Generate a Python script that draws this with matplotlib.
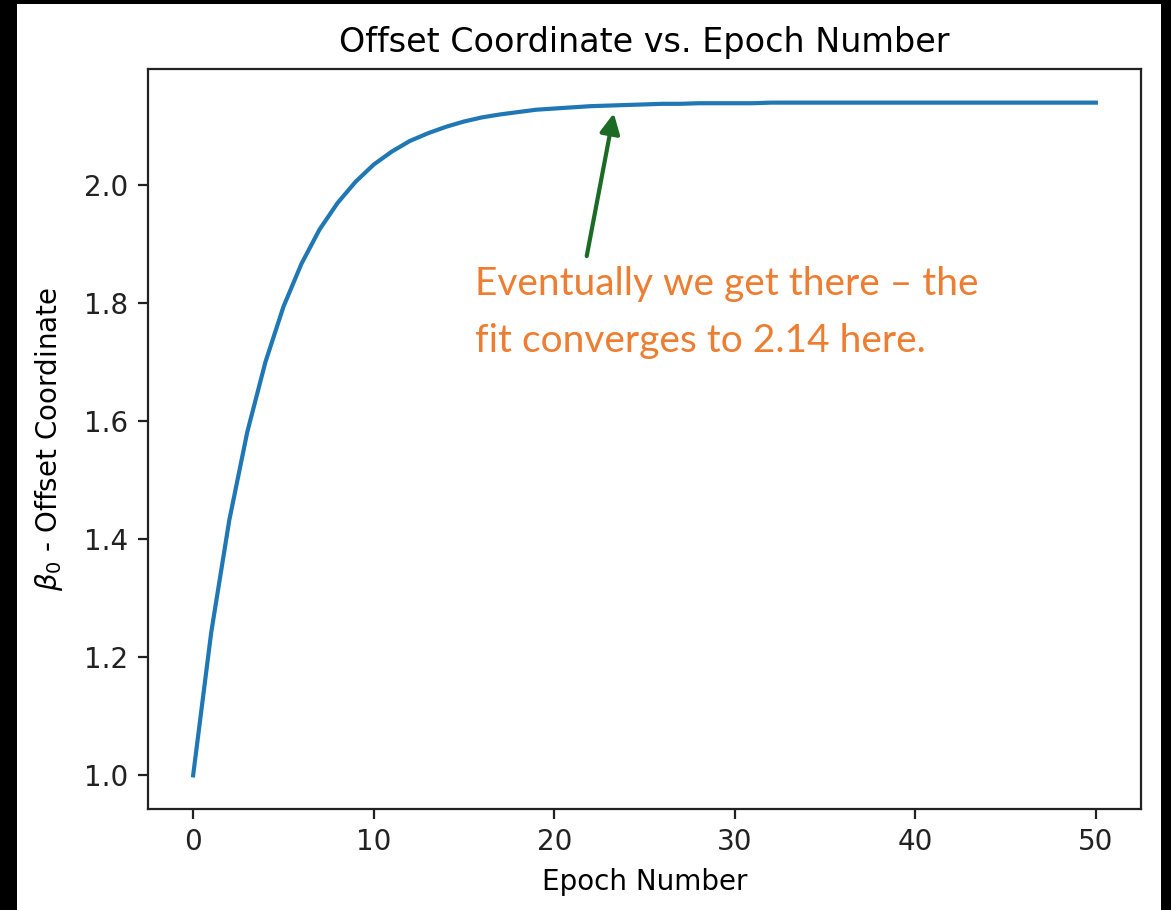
import matplotlib
matplotlib.use("Agg")
import matplotlib.pyplot as plt
from matplotlib.patches import Rectangle

# Offset coordinate (beta_0) recorded after each training epoch
epochs = list(range(0, 51))
beta0 = [1.000, 1.242, 1.432, 1.582, 1.700, 1.794, 1.867, 1.925, 1.970, 2.006,
         2.035, 2.057, 2.075, 2.088, 2.099, 2.108, 2.115, 2.120, 2.124, 2.128,
         2.130, 2.132, 2.134, 2.135, 2.136, 2.137, 2.138, 2.138, 2.139, 2.139,
         2.139, 2.139, 2.140, 2.140, 2.140, 2.140, 2.140, 2.140, 2.140, 2.140,
         2.140, 2.140, 2.140, 2.140, 2.140, 2.140, 2.140, 2.140, 2.140, 2.140,
         2.140]

converged_value = 2.14
note_text = "Eventually we get there \u2013 the\nfit converges to 2.14 here."

W, H = 1171, 910
fig = plt.figure(figsize=(W / 100, H / 100), dpi=100, facecolor="black")

# white slide area behind the plot
fig.patches.append(Rectangle((17 / W, 0), 1144 / W, 906 / H,
                             transform=fig.transFigure, facecolor="white",
                             edgecolor="none", zorder=-1))

ax = fig.add_axes([148 / W, (H - 809) / H, (1141 - 148) / W, (809 - 69) / H])
ax.plot(epochs, beta0, color="#1f77b4", linewidth=3)

ax.set_title("Offset Coordinate vs. Epoch Number", fontsize=24, pad=12)
ax.set_xlabel("Epoch Number", fontsize=20, labelpad=8)
ax.set_ylabel(r"$\beta_0$ - Offset Coordinate", fontsize=20, labelpad=14)
ax.set_xticks([0, 10, 20, 30, 40, 50])
ax.set_yticks([1.0, 1.2, 1.4, 1.6, 1.8, 2.0])
ax.tick_params(labelsize=20, length=7, width=1.6, pad=7, colors="#222222")
for s in ax.spines.values():
    s.set_linewidth(1.6)
    s.set_color("#222222")

# note with arrow pointing at the plateau
ax.annotate("", xy=(23.3, 2.122), xytext=(21.8, 1.880),
            arrowprops=dict(arrowstyle="-|>", color="#1b6b25", lw=3,
                            mutation_scale=30, shrinkA=0, shrinkB=0))
fig.text(475 / W, 1 - 352 / H, note_text, fontsize=28, family="Lato",
         color="#ed7d31", ha="left", va="baseline", linespacing=1.72,
         transform=fig.transFigure)

fig.savefig("out.png", dpi=100, facecolor=fig.get_facecolor())
